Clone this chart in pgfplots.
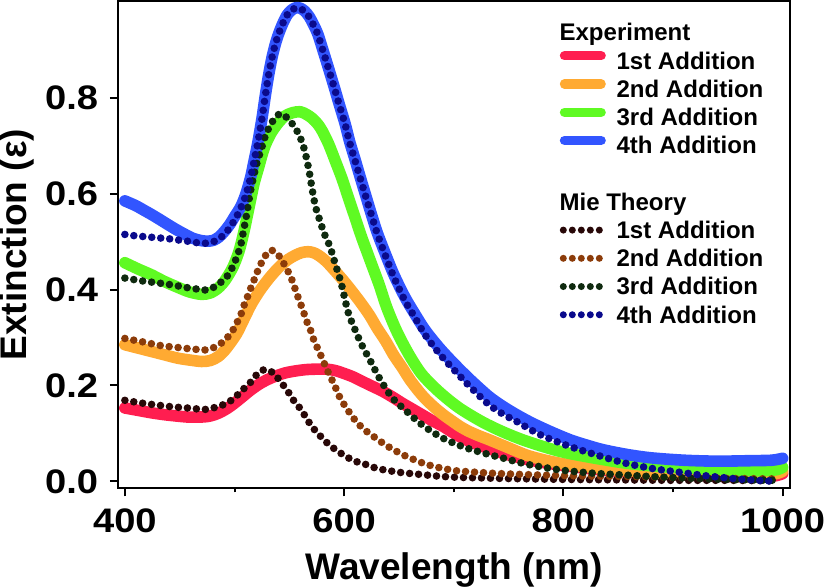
\documentclass[border=0pt]{standalone}
\usepackage{fontspec}
\setmainfont{Liberation Sans}
\newfontfamily\tickfont{Liberation Sans}[FakeStretch=1.12]
\usepackage{pgfplots}
\pgfplotsset{compat=1.18}
\definecolor{exA}{RGB}{255,30,80}
\definecolor{exB}{RGB}{255,170,50}
\definecolor{exC}{RGB}{95,250,35}
\definecolor{exD}{RGB}{50,85,255}
\definecolor{mA}{RGB}{40,8,8}
\definecolor{mB}{RGB}{140,60,10}
\definecolor{mC}{RGB}{15,42,15}
\definecolor{mD}{RGB}{10,10,140}
\pgfplotsset{
 expline/.style={no markers, line width=5.8pt, line join=round, line cap=round, smooth, tension=0.5,
   legend image code/.code={\path (0pt,-2pt) (23pt,2pt); \draw[##1, line width=4.7pt] (2.35pt,2.5pt) -- (20.65pt,2.5pt);}},
 mieline/.style={no markers, line width=3.8pt, line cap=round, dash pattern=on 0pt off 4.5pt, smooth, tension=0.5,
   legend image code/.code={\path (0pt,-2pt) (23pt,2pt); \draw[##1, line width=3.5pt] (1.75pt,0pt) -- (19.85pt,0pt);}},
}
\begin{document}
\begin{tikzpicture}
\begin{axis}[
 scale only axis, width=336pt, height=243.5pt,
 xmin=393.6, xmax=1007, ymin=-0.0146, ymax=1.002,
 axis line style={line width=1pt},
 tick style={line width=1pt, black},
 tick align=outside, tick pos=left,
 major tick length=4pt, minor tick length=2pt,
 xtick={400,600,800,1000}, minor xtick={500,700,900},
 ytick={0,0.2,0.4,0.6,0.8},
 /pgf/number format/assume math mode=true,
 xticklabel style={/pgf/number format/1000 sep={}, yshift=-6.2pt},
 yticklabel style={/pgf/number format/fixed, /pgf/number format/fixed zerofill, /pgf/number format/precision=1, xshift=-5.67pt},
 tick label style={inner sep=0pt, font=\tickfont\bfseries\fontsize{17}{17}\selectfont},
 xlabel={Wavelength (nm)}, ylabel={Extinction (ε)},
 label style={inner sep=0pt, font=\bfseries\fontsize{18.5}{18.5}\selectfont},
 xlabel style={at={(axis description cs:0.5,-0.187)}, anchor=base},
 ylabel style={at={(axis description cs:-0.1354,0.5)}, anchor=base, rotate=0},
 legend style={at={(rel axis cs:0.648,0.965)}, anchor=north west, draw=none, fill=none,
   font=\bfseries\fontsize{12}{12}\selectfont, row sep=0pt, column sep=2.5pt, inner sep=0pt,
   nodes={inner sep=0pt, text height=11.25pt, text depth=2.85pt}},
 legend cell align=left,
]
\addlegendimage{empty legend}\addlegendentry{\hspace*{-28.5pt}Experiment}
\addplot[expline, exA] coordinates {(400,0.153)(412,0.148)(424,0.143)(436,0.139)(448,0.136)(458,0.134)(467,0.134)(475,0.135)(482,0.139)(488,0.145)(494,0.153)(500,0.163)(506,0.174)(514,0.189)(522,0.202)(529,0.211)(537,0.219)(546,0.226)(555,0.230)(565,0.233)(575,0.234)(584,0.234)(592,0.231)(600,0.225)(608,0.218)(616,0.209)(625,0.199)(635,0.188)(644,0.176)(653,0.163)(662,0.151)(671,0.139)(680,0.127)(690,0.115)(699,0.102)(708,0.090)(717,0.081)(726,0.073)(735,0.066)(744,0.059)(757,0.051)(770,0.044)(785,0.038)(800,0.033)(825,0.026)(850,0.021)(875,0.017)(900,0.014)(925,0.012)(950,0.010)(975,0.010)(992,0.011)(1000,0.016)};
\addlegendentry{1st Addition}
\addplot[expline, exB] coordinates {(400,0.285)(412,0.278)(424,0.271)(436,0.264)(448,0.257)(459,0.253)(470,0.250)(478,0.252)(485,0.260)(491,0.273)(497,0.291)(502,0.308)(506,0.326)(510,0.345)(515,0.368)(520,0.387)(525,0.404)(531,0.422)(537,0.438)(543,0.452)(549,0.463)(555,0.471)(561,0.477)(567,0.479)(572,0.477)(577,0.471)(584,0.458)(592,0.438)(600,0.417)(607,0.397)(615,0.373)(623,0.347)(630,0.320)(638,0.292)(645,0.264)(653,0.237)(660,0.212)(668,0.188)(675,0.170)(683,0.153)(691,0.138)(699,0.125)(706,0.114)(714,0.104)(723,0.095)(732,0.087)(750,0.070)(766,0.055)(780,0.046)(796,0.038)(811,0.033)(827,0.029)(842,0.025)(857,0.022)(872,0.019)(887,0.017)(903,0.015)(918,0.014)(948,0.013)(979,0.014)(994,0.016)(1000,0.021)};
\addlegendentry{2nd Addition}
\addplot[expline, exC] coordinates {(400,0.456)(412,0.443)(424,0.431)(436,0.417)(448,0.405)(459,0.395)(470,0.390)(478,0.393)(485,0.403)(491,0.418)(497,0.440)(501,0.460)(505,0.487)(509,0.525)(512,0.558)(515,0.591)(518,0.623)(522,0.655)(525,0.680)(528,0.701)(531,0.716)(534,0.729)(540,0.748)(546,0.762)(553,0.769)(560,0.771)(566,0.765)(571,0.757)(576,0.745)(580,0.731)(586,0.703)(592,0.668)(598,0.632)(604,0.591)(610,0.550)(616,0.509)(621,0.478)(626,0.447)(632,0.410)(639,0.362)(648,0.313)(659,0.265)(671,0.223)(687,0.186)(705,0.153)(726,0.124)(745,0.103)(766,0.084)(796,0.063)(827,0.049)(857,0.038)(887,0.031)(918,0.027)(948,0.024)(979,0.022)(994,0.024)(1000,0.029)};
\addlegendentry{3rd Addition}
\addplot[expline, exD] coordinates {(400,0.585)(410,0.575)(417,0.566)(424,0.557)(432,0.546)(439,0.536)(447,0.525)(455,0.515)(462,0.507)(470,0.502)(476,0.501)(481,0.503)(486,0.510)(491,0.522)(496,0.537)(500,0.552)(505,0.570)(508,0.585)(511,0.604)(515,0.637)(518,0.670)(521,0.703)(525,0.756)(528,0.803)(531,0.846)(534,0.882)(537,0.910)(540,0.932)(544,0.955)(548,0.973)(552,0.983)(556,0.988)(560,0.987)(564,0.981)(568,0.970)(572,0.953)(576,0.933)(581,0.897)(586,0.860)(591,0.822)(596,0.783)(601,0.745)(605,0.709)(610,0.671)(615,0.632)(620,0.594)(625,0.556)(630,0.520)(636,0.484)(645,0.433)(655,0.386)(664,0.351)(674,0.315)(687,0.278)(700,0.246)(715,0.212)(732,0.177)(745,0.156)(758,0.138)(771,0.122)(784,0.108)(796,0.096)(808,0.085)(822,0.075)(836,0.066)(858,0.056)(880,0.049)(910,0.044)(940,0.042)(970,0.043)(990,0.044)(1000,0.048)};
\addlegendentry{4th Addition}
\addlegendimage{empty legend}\addlegendentry{}
\addlegendimage{empty legend}\addlegendentry{\hspace*{-28.5pt}Mie Theory}
\addplot[mieline, mA] coordinates {(400,0.169)(416,0.163)(433,0.158)(445,0.155)(457,0.153)(466,0.151)(474,0.150)(482,0.154)(490,0.160)(499,0.172)(506,0.188)(514,0.205)(520,0.222)(524,0.230)(527,0.233)(531,0.232)(534,0.228)(538,0.219)(542,0.209)(545,0.199)(548,0.190)(553,0.172)(556,0.162)(560,0.152)(565,0.134)(570,0.116)(576,0.100)(581,0.088)(586,0.077)(594,0.063)(603,0.050)(610,0.042)(620,0.035)(627,0.029)(636,0.024)(644,0.021)(653,0.018)(671,0.014)(690,0.010)(708,0.008)(726,0.007)(744,0.006)(800,0.004)(850,0.003)(900,0.002)(950,0.002)(995,0.001)};
\addlegendentry{1st Addition}
\addplot[mieline, mB] coordinates {(400,0.298)(416,0.291)(433,0.283)(445,0.280)(457,0.277)(466,0.275)(474,0.274)(482,0.280)(490,0.292)(497,0.310)(502,0.330)(506,0.349)(509,0.369)(512,0.386)(515,0.404)(518,0.421)(521,0.438)(525,0.458)(528,0.470)(531,0.479)(534,0.482)(538,0.477)(542,0.466)(546,0.450)(551,0.428)(554,0.410)(557,0.390)(560,0.372)(563,0.353)(567,0.327)(570,0.312)(573,0.290)(576,0.277)(580,0.256)(583,0.240)(587,0.220)(591,0.202)(595,0.180)(600,0.160)(606,0.140)(612,0.122)(620,0.105)(629,0.090)(637,0.077)(645,0.066)(654,0.055)(664,0.045)(673,0.037)(682,0.031)(692,0.026)(702,0.022)(720,0.019)(743,0.016)(780,0.013)(820,0.011)(860,0.010)(900,0.008)(950,0.006)(995,0.005)};
\addlegendentry{2nd Addition}
\addplot[mieline, mC] coordinates {(400,0.424)(416,0.418)(433,0.413)(445,0.409)(457,0.404)(466,0.401)(474,0.399)(482,0.406)(490,0.420)(495,0.433)(500,0.456)(503,0.474)(506,0.496)(508,0.520)(511,0.556)(515,0.610)(520,0.660)(525,0.697)(529,0.726)(535,0.752)(539,0.763)(542,0.767)(545,0.764)(549,0.756)(552,0.748)(555,0.738)(558,0.727)(560,0.717)(564,0.690)(568,0.648)(571,0.607)(574,0.572)(578,0.543)(582,0.516)(587,0.490)(592,0.453)(597,0.416)(600,0.387)(604,0.350)(610,0.316)(616,0.285)(624,0.251)(633,0.212)(644,0.174)(656,0.148)(671,0.118)(690,0.090)(711,0.070)(732,0.056)(744,0.049)(766,0.036)(796,0.024)(827,0.017)(857,0.013)(887,0.009)(918,0.006)(948,0.004)(975,0.003)(995,0.002)};
\addlegendentry{3rd Addition}
\addplot[mieline, mD] coordinates {(400,0.515)(410,0.512)(420,0.510)(430,0.508)(440,0.506)(450,0.503)(460,0.500)(468,0.497)(476,0.497)(482,0.501)(487,0.508)(491,0.516)(495,0.527)(499,0.541)(503,0.557)(507,0.577)(511,0.602)(515,0.637)(518,0.670)(521,0.703)(525,0.756)(528,0.803)(531,0.846)(534,0.882)(537,0.910)(540,0.932)(544,0.955)(548,0.973)(552,0.983)(556,0.987)(560,0.986)(564,0.980)(568,0.969)(572,0.952)(576,0.932)(581,0.896)(586,0.859)(591,0.821)(596,0.782)(601,0.744)(605,0.707)(610,0.669)(615,0.630)(620,0.592)(625,0.555)(630,0.518)(636,0.481)(645,0.428)(655,0.379)(664,0.344)(674,0.305)(687,0.266)(700,0.233)(715,0.197)(732,0.160)(745,0.140)(758,0.124)(773,0.104)(786,0.090)(808,0.071)(836,0.051)(858,0.037)(883,0.026)(909,0.018)(932,0.011)(954,0.006)(977,0.002)(995,0.000)};
\addlegendentry{4th Addition}
\end{axis}
\end{tikzpicture}
\end{document}
